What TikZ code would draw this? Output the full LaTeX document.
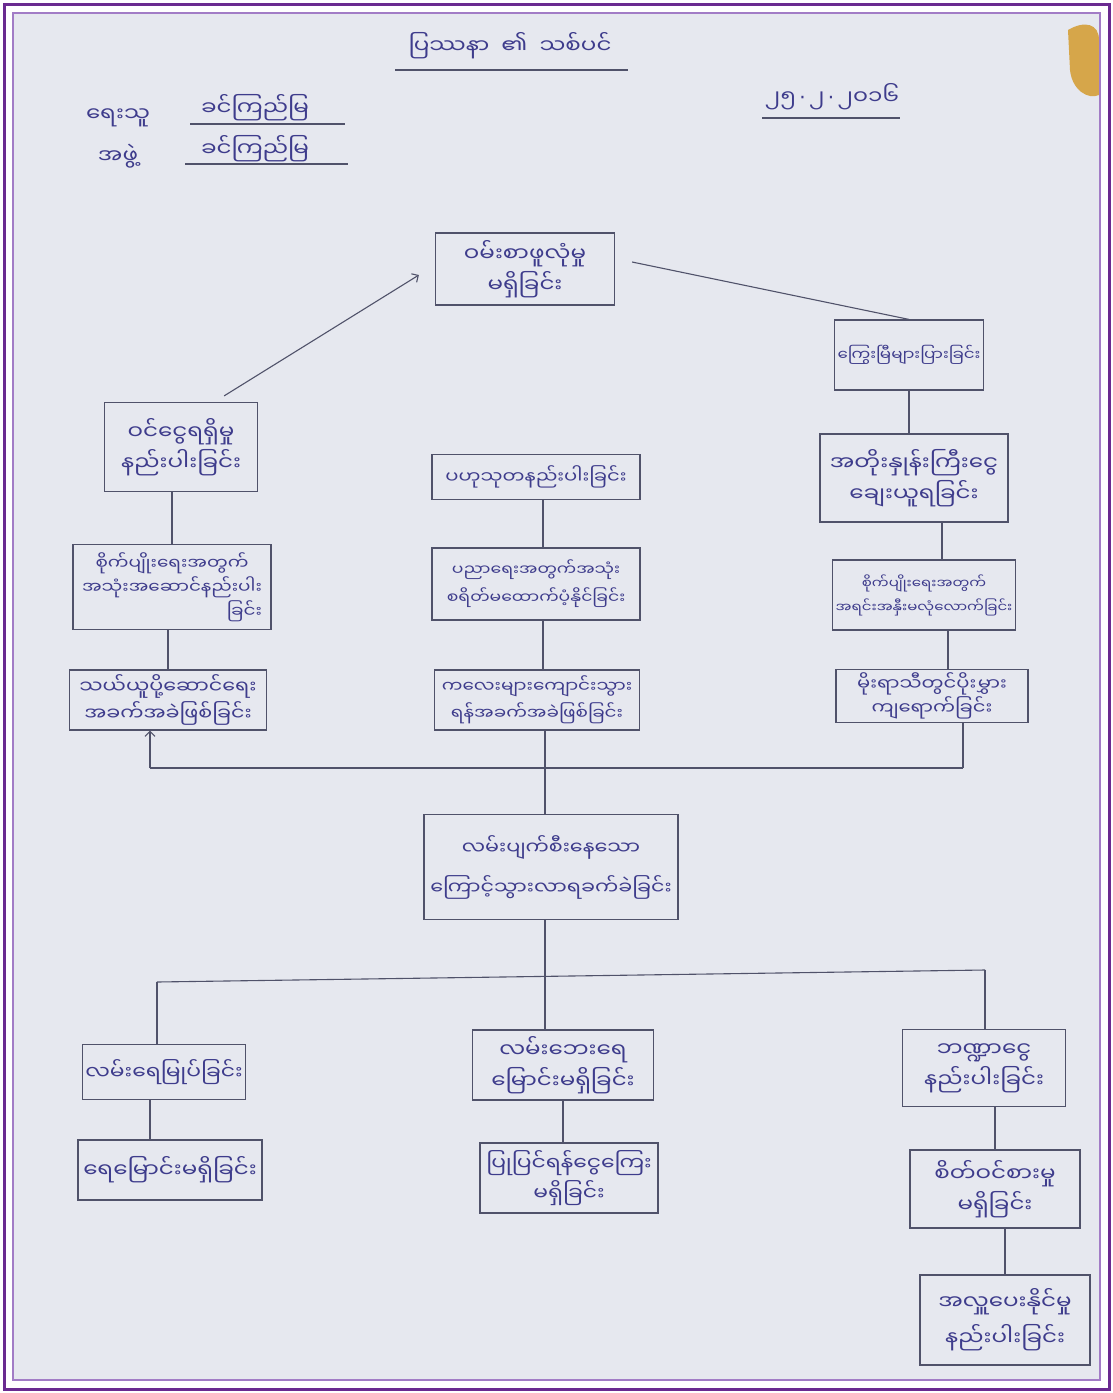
\documentclass[tikz,border=0pt]{standalone}
\usepackage{fontspec}
\newfontfamily\mmfont[Script=Myanmar,FakeStretch=1.15]{Noto Sans Myanmar UI}
\newfontfamily\symfont{DejaVu Sans}
\usetikzlibrary{arrows.meta}
\definecolor{ink}{HTML}{3E3C8C}
\definecolor{pencil}{HTML}{50526A}
\definecolor{paper}{HTML}{E6E8EF}
\definecolor{frameout}{HTML}{6A2A90}
\definecolor{framein}{HTML}{A27CC6}
\definecolor{goldclip}{HTML}{D6A64A}

\begin{document}
\begin{tikzpicture}[x=1pt,y=-1pt,
			box node/.style={draw=pencil,line width=1.2pt,text=ink,align=center,inner sep=3pt,font=\mmfont\fontsize{20}{31}\selectfont},
			fs/.style 2 args={font=\mmfont\fontsize{#1}{#2}\selectfont},
			head node/.style={text=ink,font=\mmfont\fontsize{20}{24}\selectfont},
			link/.style={draw=pencil,line width=1.1pt}
			]
			
			% page and frame
			\useasboundingbox (0,0) rectangle (1113,1393);
			\fill[white] (0,0) rectangle (1113,1393);
			\fill[paper] (14,14) rectangle (1099,1379);
			\fill[goldclip] (1068,30) .. controls (1085,20) and (1099,24) .. (1099,40) -- (1099,95) .. controls (1088,100) and (1072,90) .. (1070,70) -- cycle;
			\draw[framein,line width=1.5pt] (13,13) rectangle (1100,1380);
			\draw[frameout,line width=3pt] (4,4) rectangle (1109,1389);
			
			% heading
			\node[head node] at (510,46) (title) {ပြဿနာ ~၏~ သစ်ပင်};
			\node[head node] at (118,118) (lab1) {ရေးသူ};
			\node[head node] at (255,108) (name1) {ခင်ကြည်မြ};
			\node[head node] at (118,156) (lab2) {အဖွဲ့};
			\node[head node] at (255,149) (name2) {ခင်ကြည်မြ};
			\node[head node] at (832,97) (date) {၂၅{\symfont\,·\,}၂{\symfont\,·\,}၂၀၁၆};
			\draw[link] (395,70) -- (628,70);
			\draw[link] (190,124) -- (345,124);
			\draw[link] (185,164) -- (348,164);
			\draw[link] (762,118) -- (900,118);
			
			% effects
			\node[box node,minimum width=179,minimum height=72] at (525,269) (b1) {ဝမ်းစာဖူလုံမှု\\မရှိခြင်း};
			\node[box node,fs={14.5}{20},minimum width=146,minimum height=70] at (909,355) (b2) {ကြွေးမြီများပြားခြင်း};
			\node[box node,minimum width=153,minimum height=89] at (181,447) (b3) {ဝင်ငွေရရှိမှု\\နည်းပါးခြင်း};
			\node[box node,fs={17}{24},minimum width=208,minimum height=45] at (536,477) (b4) {ပဟုသုတနည်းပါးခြင်း};
			\node[box node,minimum width=188,minimum height=88] at (914,478) (b5) {အတိုးနှုန်းကြီးငွေ\\ချေးယူရခြင်း};
			\node[box node,fs={16}{24},minimum width=198,minimum height=85] at (172,587) (b6) {စိုက်ပျိုးရေးအတွက်\\အသုံးအဆောင်နည်းပါး\\\hfill ခြင်း};
			\node[box node,fs={15}{28},minimum width=208,minimum height=72] at (536,584) (b7) {ပညာရေးအတွက်အသုံး\\စရိတ်မထောက်ပံ့နိုင်ခြင်း};
			\node[box node,fs={13}{24},minimum width=183,minimum height=70] at (924,595) (b8) {စိုက်ပျိုးရေးအတွက်\\အရင်းအနှီးမလုံလောက်ခြင်း};
			\node[box node,fs={18}{27},minimum width=197,minimum height=60] at (168,700) (b9) {သယ်ယူပို့ဆောင်ရေး\\အခက်အခဲဖြစ်ခြင်း};
			\node[box node,fs={16}{27},minimum width=205,minimum height=60] at (537,700) (b10) {ကလေးများကျောင်းသွား\\ရန်အခက်အခဲဖြစ်ခြင်း};
			\node[box node,fs={17}{24},minimum width=192,minimum height=52] at (932,696) (b11) {မိုးရာသီတွင်ပိုးမွှား\\ကျရောက်ခြင်း};
			
			% core problem
			\node[box node,fs={18}{40},minimum width=254,minimum height=105] at (551,867) (core) {လမ်းပျက်စီးနေသော\\ကြောင့်သွားလာရခက်ခဲခြင်း};
			
			% causes
			\node[box node,fs={19}{28},minimum width=163,minimum height=55] at (164,1072) (b13) {လမ်းရေမြုပ်ခြင်း};
			\node[box node,minimum width=181,minimum height=70] at (563,1065) (b14) {လမ်းဘေးရေ\\မြောင်းမရှိခြင်း};
			\node[box node,minimum width=163,minimum height=77] at (984,1068) (b15) {ဘဏ္ဍာငွေ\\နည်းပါးခြင်း};
			\node[box node,minimum width=184,minimum height=60] at (170,1170) (b16) {ရေမြောင်းမရှိခြင်း};
			\node[box node,fs={19}{30},minimum width=178,minimum height=70] at (569,1178) (b17) {ပြုပြင်ရန်ငွေကြေး\\မရှိခြင်း};
			\node[box node,minimum width=170,minimum height=78] at (995,1189) (b18) {စိတ်ဝင်စားမှု\\မရှိခြင်း};
			\node[box node,fs={20}{36},minimum width=170,minimum height=90] at (1005,1320) (b19) {အလှူပေးနိုင်မှု\\နည်းပါးခြင်း};
			
			\coordinate (upL) at (150,768);
			\coordinate (upM) at (545,768);
			\coordinate (upR) at (963,768);
			\coordinate (loL) at (157,982);
			\coordinate (loM) at (545,976);
			\coordinate (loR) at (985,970);
			\coordinate (s3) at ([xshift=-34,yshift=6]b3.north east);
			\coordinate (e1) at ([xshift=-16,yshift=-6]b1.west);
			\coordinate (s1) at ([xshift=17,yshift=7]b1.east);
			\coordinate (v4) at ([xshift=7]b4.south);
			\coordinate (v7) at ([xshift=7]b7.south);
			\coordinate (v8) at ([xshift=18]b8.north);
			\coordinate (v11) at ([xshift=16]b11.north);
			\coordinate (v13) at ([xshift=-14]b13.south);
			
			\draw[link,-{Straight Barb[length=5pt]}] (s3) -- (e1);
			\draw[link] (s1) -- (b2.north);
			\draw[link] (b2.south) -- (b2.south |- b5.north);
			\draw[link] (v8) -- (v8 |- b5.south);
			\draw[link] (v11) -- (v11 |- b8.south);
			\draw[link] (b6.north) -- (b6.north |- b3.south);
			\draw[link] (b9.north) -- (b9.north |- b6.south);
			\draw[link] (v4) -- (v4 |- b7.north);
			\draw[link] (v7) -- (v7 |- b10.north);
			\draw[link] (upL) -- (upR);
			\draw[link,-{Straight Barb[length=5pt]}] (upL) -- (upL |- b9.south);
			\draw[link] (upR) -- (upR |- b11.south);
			\draw[link] (upM |- b10.south) -- (upM |- core.north);
			\draw[link] (loM |- core.south) -- (loM);
			\draw[link] (loL) -- (loR);
			\draw[link] (loL) -- (loL |- b13.north);
			\draw[link] (loM) -- (loM |- b14.north);
			\draw[link] (loR) -- (loR |- b15.north);
			\draw[link] (v13) -- (v13 |- b16.north);
			\draw[link] (b14.south) -- (b14.south |- b17.north);
			\draw[link] (b18.north) -- (b18.north |- b15.south);
			\draw[link] (b19.north) -- (b19.north |- b18.south);
			\end{tikzpicture}
\end{document}
